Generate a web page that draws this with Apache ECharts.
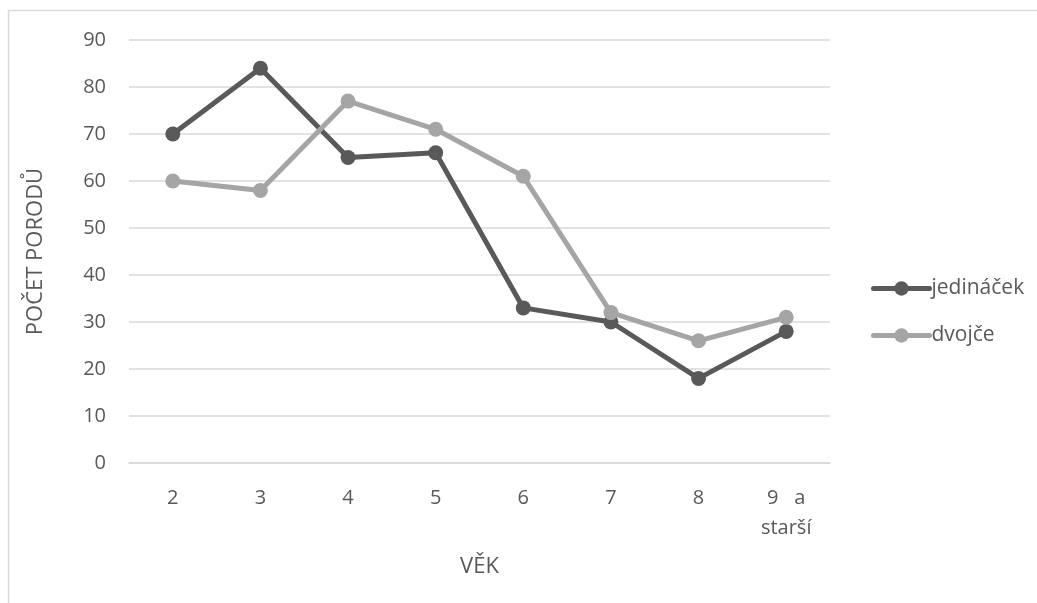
<!DOCTYPE html>
<html>
<head>
<meta charset="utf-8">
<script src="https://cdn.jsdelivr.net/npm/echarts@6/dist/echarts.min.js"></script>
<style>
  html, body { margin: 0; padding: 0; background: #fff; }
  #chart { width: 1037px; height: 603px; }
</style>
</head>
<body>
<div id="chart"></div>
<script>
// Age groups on the x axis
const categories = ['2', '3', '4', '5', '6', '7', '8', '9   a\nstarší'];
// Number of births per age group
const jedinacek = [70, 84, 65, 66, 33, 30, 18, 28];
const dvojce = [60, 58, 77, 71, 61, 32, 26, 31];
const seriesNames = ['jedináček', 'dvojče'];

const font = '"Open Sans", "Noto Sans", sans-serif';
const textColor = '#595959';

const chart = echarts.init(document.getElementById('chart'));

function lineSeries(name, data, color) {
  return {
    name: name,
    type: 'line',
    data: data,
    symbol: 'circle',
    symbolSize: 15,
    lineStyle: { color: color, width: 5 },
    itemStyle: { color: color },
    emphasis: { disabled: true }
  };
}

chart.setOption({
  animation: false,
  textStyle: { fontFamily: font },
  graphic: [{
    type: 'rect',
    shape: { x: 8.5, y: 10.5, width: 1200, height: 800 },
    style: { fill: 'none', stroke: '#d9d9d9', lineWidth: 1.5 },
    silent: true
  }],
  grid: { left: 129, right: 207, top: 40, bottom: 140 },
  legend: {
    orient: 'vertical',
    left: 866,
    top: 273,
    itemWidth: 56,
    itemHeight: 18,
    itemGap: 26,
    itemStyle: { borderWidth: 0 },
    lineStyle: { width: 5, cap: 'round' },
    textStyle: { color: textColor, fontSize: 21, fontFamily: font, padding: [0, 0, 0, -3] },
    data: seriesNames
  },
  xAxis: {
    type: 'category',
    data: categories,
    boundaryGap: true,
    name: 'VĚK',
    nameLocation: 'middle',
    nameGap: 93,
    nameTextStyle: { color: textColor, fontSize: 22, fontFamily: font },
    axisLine: { lineStyle: { color: '#d9d9d9', width: 1.5 } },
    axisTick: { show: false },
    axisLabel: { color: textColor, fontSize: 20, margin: 20, lineHeight: 30, fontFamily: font }
  },
  yAxis: {
    type: 'value',
    min: 0,
    max: 90,
    interval: 10,
    name: 'POČET PORODŮ',
    nameLocation: 'middle',
    nameGap: 82,
    nameTextStyle: { color: textColor, fontSize: 22, fontFamily: font },
    axisLine: { show: false },
    axisTick: { show: false },
    axisLabel: { color: textColor, fontSize: 20, margin: 23, fontFamily: font },
    splitLine: { lineStyle: { color: '#d9d9d9', width: 1.5 } }
  },
  series: [
    lineSeries(seriesNames[0], jedinacek, '#595959'),
    lineSeries(seriesNames[1], dvojce, '#a5a5a5')
  ]
});
</script>
</body>
</html>
